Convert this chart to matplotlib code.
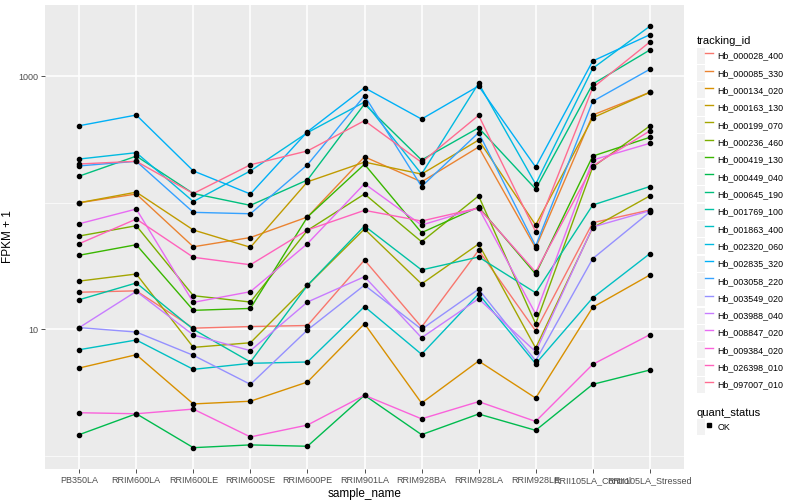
import matplotlib
matplotlib.use("Agg")
import matplotlib.pyplot as plt
from matplotlib.patches import Patch
from matplotlib.lines import Line2D
from matplotlib.legend_handler import HandlerTuple
import matplotlib.ticker as mticker
import numpy as np

plt.rcParams['font.family'] = ['Liberation Sans', 'DejaVu Sans']

samples = ["PB350LA", "RRIM600LA", "RRIM600LE", "RRIM600SE", "RRIM600PE",
           "RRIM901LA", "RRIM928BA", "RRIM928LA", "RRIM928LE",
           "RRII105LA_Control", "RRII105LA_Stressed"]

# FPKM + 1
hb_000028_400 = [19.6, 20.1, 10.2, 10.5, 10.7, 35.2, 10.4, 42.0, 9.7, 69.4, 87.4]
hb_000085_330 = [99.8, 117, 44.8, 53.0, 77.0, 230, 146, 275, 43.8, 492, 743]
hb_000134_020 = [4.94, 6.29, 2.57, 2.70, 3.83, 11.05, 2.61, 5.61, 2.86, 14.9, 26.8]
hb_000163_130 = [99.8, 121, 60.8, 44.4, 146, 209, 168, 312, 66.5, 468, 743]
hb_000199_070 = [24.0, 27.3, 7.19, 7.82, 22.2, 61.9, 22.8, 47.1, 7.10, 63.4, 113]
hb_000236_460 = [54.5, 65.7, 18.4, 16.4, 60.4, 117, 49.1, 113, 11.0, 191, 403]
hb_000419_130 = [38.4, 46.5, 14.1, 14.6, 77.0, 201, 57.9, 92.3, 27.3, 233, 328]
hb_000449_040 = [1.47, 2.15, 1.16, 1.22, 1.19, 3.01, 1.47, 2.14, 1.59, 3.67, 4.76]
hb_000645_190 = [162, 233, 118, 95.2, 151, 601, 217, 390, 128, 865, 1604]
hb_001769_100 = [17.1, 23.2, 9.98, 5.51, 22.2, 65.4, 29.4, 37.2, 19.4, 95.7, 134]
hb_001863_400 = [6.89, 8.22, 4.82, 5.38, 5.51, 15.1, 6.34, 19.0, 5.34, 17.7, 39.5]
hb_002320_060 = [221, 248, 102, 178, 357, 623, 168, 876, 140, 1150, 2470]
hb_002835_320 = [405, 492, 178, 117, 363, 808, 457, 834, 191, 1314, 2118]
hb_003058_220 = [195, 212, 83.8, 81.7, 199, 699, 134, 357, 45.4, 631, 1130]
hb_003549_020 = [10.3, 9.50, 6.22, 3.67, 9.86, 22.3, 10.0, 20.7, 5.64, 36.1, 84.3]
hb_003988_040 = [10.3, 19.9, 9.0, 6.77, 16.4, 26.0, 8.57, 17.4, 6.64, 64.2, 86.3]
hb_008847_020 = [68.1, 89.0, 16.3, 19.8, 47.4, 141, 66.5, 90.7, 13.2, 217, 294]
hb_009384_020 = [2.19, 2.15, 2.34, 1.41, 1.75, 3.01, 1.96, 2.68, 1.87, 5.28, 9.05]
hb_026398_010 = [47.4, 74.2, 37.0, 32.3, 60.8, 86.9, 71.6, 90.7, 28.3, 195, 368]
hb_097007_010 = [202, 212, 118, 199, 256, 444, 208, 489, 58.9, 808, 1856]

tracking_ids = ["Hb_000028_400", "Hb_000085_330", "Hb_000134_020", "Hb_000163_130",
                "Hb_000199_070", "Hb_000236_460", "Hb_000419_130", "Hb_000449_040",
                "Hb_000645_190", "Hb_001769_100", "Hb_001863_400", "Hb_002320_060",
                "Hb_002835_320", "Hb_003058_220", "Hb_003549_020", "Hb_003988_040",
                "Hb_008847_020", "Hb_009384_020", "Hb_026398_010", "Hb_097007_010"]
series = [hb_000028_400, hb_000085_330, hb_000134_020, hb_000163_130,
          hb_000199_070, hb_000236_460, hb_000419_130, hb_000449_040,
          hb_000645_190, hb_001769_100, hb_001863_400, hb_002320_060,
          hb_002835_320, hb_003058_220, hb_003549_020, hb_003988_040,
          hb_008847_020, hb_009384_020, hb_026398_010, hb_097007_010]
colors = ["#F8766D", "#EA8331", "#D89000", "#C09B00", "#A3A500", "#7CAE00",
          "#39B600", "#00BB4E", "#00BF7D", "#00C1A3", "#00BFC4", "#00BAE0",
          "#00B0F6", "#35A2FF", "#9590FF", "#C77CFF", "#E76BF3", "#FA62DB",
          "#FF62BC", "#FF6C91"]

fig = plt.figure(figsize=(8, 5), dpi=100)
ax = fig.add_axes([0.05625, 0.062, 0.79875, 0.928])
ax.set_facecolor("#EBEBEB")

x = np.arange(1, len(samples) + 1)
for vals, col in zip(series, colors):
    ax.plot(x, vals, color=col, lw=1.0, zorder=2)
for vals in series:
    ax.plot(x, vals, ls="none", marker="o", ms=3.0, color="black",
            mec="black", zorder=3)

ax.set_yscale("log")
ax.set_ylim(10 ** -0.104, 10 ** 3.561)
ax.set_xlim(0.4, 11.6)
ax.yaxis.set_major_locator(mticker.FixedLocator([10, 1000]))
ax.yaxis.set_minor_locator(mticker.FixedLocator([1, 100]))
ax.yaxis.set_major_formatter(mticker.FixedFormatter(["10", "1000"]))
ax.yaxis.set_minor_formatter(mticker.NullFormatter())
ax.set_xticks(x)
ax.set_xticklabels(samples)

ax.grid(True, which="major", color="white", lw=1.1, zorder=0)
ax.grid(True, which="minor", axis="y", color="white", lw=0.5, zorder=0)
ax.set_axisbelow(True)
for s in ax.spines.values():
    s.set_visible(False)
ax.tick_params(which="major", length=3, width=0.6, color="#333333",
               labelsize=6.5, labelcolor="#4D4D4D", pad=2)
ax.tick_params(which="minor", length=0)

ax.set_xlabel("sample_name", fontsize=8.5, labelpad=2)
ax.set_ylabel("FPKM + 1", fontsize=8.5, labelpad=3)

key_bg = Patch(facecolor="#F2F2F2", edgecolor="none")
leg_kw = dict(handler_map={tuple: HandlerTuple(ndivide=None)},
              loc="upper left", frameon=False, fontsize=6.4, title_fontsize=8,
              handlelength=1.8, handleheight=2.39, labelspacing=0.15,
              handletextpad=0.5, borderaxespad=0, borderpad=0,
              alignment="left")

handles = [(key_bg, Line2D([], [], color=c, lw=1.0)) for c in colors]
leg1 = fig.legend(handles, tracking_ids, title="tracking_id",
                  bbox_to_anchor=(0.871, 0.927), **leg_kw)

ok_handle = (key_bg, Line2D([], [], ls="none", marker="s", ms=3.0, color="black"))
leg2 = fig.legend([ok_handle], ["OK"], title="quant_status",
                  bbox_to_anchor=(0.871, 0.184), **leg_kw)

fig.savefig("out.png", dpi=100)
